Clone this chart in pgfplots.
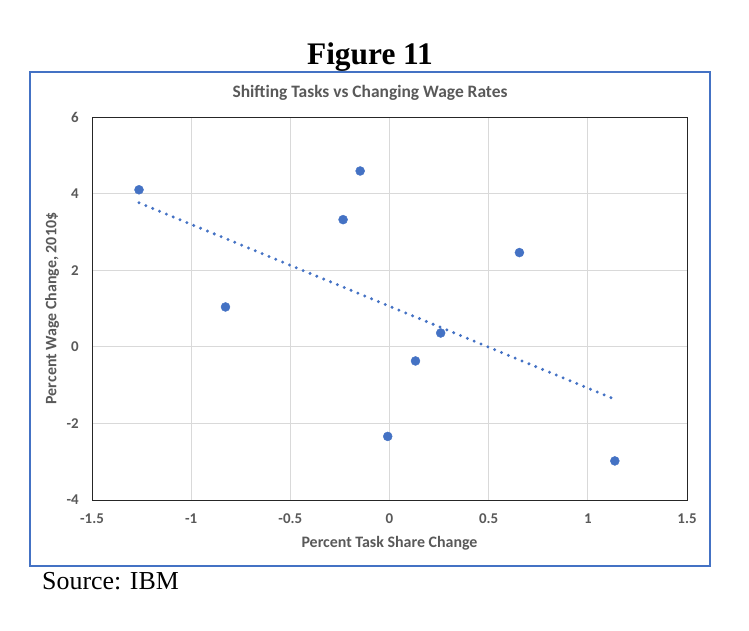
\documentclass[border=0pt]{standalone}
\usepackage{fontspec}
\setmainfont{Liberation Serif}
\newfontfamily\carlito{Carlito}
\usepackage{pgfplots}
\pgfplotsset{compat=1.18}
\definecolor{xlblue}{HTML}{4472C4}
\definecolor{xlgray}{HTML}{595959}
\definecolor{xlgrid}{HTML}{D9D9D9}
\begin{document}
\begin{tikzpicture}[x=1bp,y=1bp]
  \path (0,0) rectangle (749,631);
  % outer frame and page texts
  \draw[xlblue, line width=2.5bp] (30,65) rectangle (710,559);
  \node[font=\bfseries\fontsize{31.5}{34}\selectfont, anchor=base] at (370,566) {Figure 11};
  \node[font=\fontsize{26}{29}\selectfont, anchor=base west, inner sep=0pt] at (42,41) {Source: IBM};
  \node[font=\carlito\bfseries\fontsize{17.5}{20}\selectfont, text=xlgray, anchor=base] at (370,533) {Shifting Tasks vs Changing Wage Rates};
  \begin{axis}[
      at={(92bp,131bp)}, anchor=south west,
      scale only axis,
      width=595bp, height=383bp,
      xmin=-1.5, xmax=1.5,
      ymin=-4, ymax=6,
      xtick={-1.5,-1,-0.5,0,0.5,1,1.5},
      xticklabels={-1.5,-1,-0.5,0,0.5,1,1.5},
      ytick={-4,-2,0,2,4,6},
      yticklabels={-4,-2,0,2,4,6},
      major tick length=0pt,
      grid=major,
      major grid style={xlgrid, line width=0.9bp},
      axis line style={black!85, line width=0.8bp},
      tick label style={font=\carlito\bfseries\fontsize{15}{17}\selectfont, text=xlgray, inner sep=0pt},
      yticklabel style={xshift=-13bp},
      xticklabel style={yshift=-14bp},
      xlabel={Percent Task Share Change},
      ylabel={Percent Wage Change, 2010\$},
      label style={font=\carlito\bfseries\fontsize{16}{18}\selectfont, text=xlgray},
      xlabel style={at={(axis description cs:0.5,-0.1123)}, anchor=center},
      ylabel style={at={(axis description cs:-0.0672,0.5)}, anchor=center},
    ]
    \addplot[only marks, mark=*, mark size=4.5bp, xlblue, mark options={draw=xlblue, fill=xlblue}]
      coordinates {(-1.263,4.10) (-0.148,4.59) (-0.234,3.32) (-0.827,1.04)
                   (0.655,2.46) (0.258,0.36) (0.131,-0.37) (-0.009,-2.34) (1.136,-2.98)};
    \addplot[xlblue, line width=3.3bp, line cap=round, dash pattern=on 0pt off 7.4bp]
      coordinates {(-1.263,3.76) (1.136,-1.37)};
  \end{axis}
\end{tikzpicture}
\end{document}
